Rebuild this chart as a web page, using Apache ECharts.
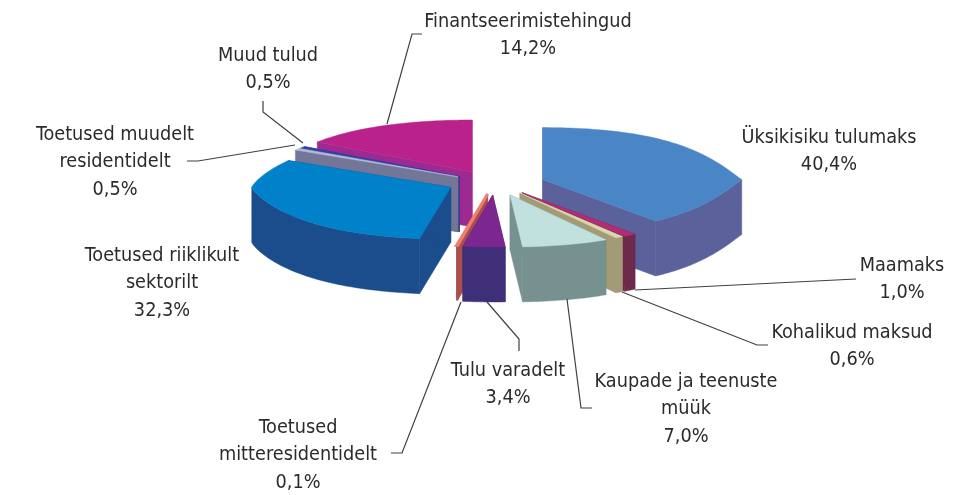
<!DOCTYPE html>
<html><head><meta charset="utf-8">
<style>html,body{margin:0;padding:0;background:#fff}#c{width:966px;height:495px}</style>
<script src="https://cdn.jsdelivr.net/npm/echarts@6/dist/echarts.min.js"></script>
</head><body><div id="c"></div>
<script>
const categories = ["Üksikisiku tulumaks","Maamaks","Kohalikud maksud","Kaupade ja teenuste\nmüük","Tulu varadelt","Toetused\nmitteresidentidelt","Toetused riiklikult\nsektorilt","Toetused muudelt\nresidentidelt","Muud tulud","Finantseerimistehingud"];
const values = [40.4,1.0,0.6,7.0,3.4,0.1,32.3,0.5,0.5,14.2];

const view = {cx:495, cy:183, rx:199, ry:52, depth:55, squash:0.23};
const explode = [50,50,50,54,52,48,48,46,45,53];
const layer = [4,5,6,7,9,8,3,2,1,0];
const topColors = ["#4A86C6","#B32C78","#DDD6AC","#C0E1DE","#7C2790","#EE7F6E","#0081C9","#AFBCDF","#3A3CA6","#B8228A"];
const sideColors = ["#5A619B","#6E2A4B","#A39B78","#76918F","#3F2F78","#A9504C","#1B4C8B","#747697","#3A3A92","#9C2A90"];
const topEdge = [0.5,0.5,0.5,0.5,0.5,3,0.5,0.5,1,0.5];
const labelAt = [[829,124],[902,252],[852,319],[686,368],[508,357],[298,414],[162,242],[115,121],[268,42],[528,8]];
const leaders = [
 null,
 [[635,290],[856,279]],
 [[622,292],[757,345],[768,345]],
 [[567,299],[581,408],[592,408]],
 [[487,302],[519,339],[519,351]],
 [[461,302],[402,453],[391,453]],
 null,
 [[295,145],[198,161],[187,161]],
 [[303,143],[263,112],[263,101]],
 [[387,124],[412,34],[422,34]]
];
const TAU = Math.PI*2;
let acc = 0;
const rows = values.map((v,i)=>{const r=[i,acc,acc+v];acc+=v;return r;});

function renderSlice(params, api){
  const i = api.value(0), a0 = api.value(1)/100*TAU, a1 = api.value(2)/100*TAU;
  const mid=(a0+a1)/2, e=explode[i];
  const ax=view.cx+Math.sin(mid)*e, ay=view.cy-Math.cos(mid)*e*view.squash;
  const P=a=>{
    const s=Math.sin(a), c=Math.cos(a), ac=Math.abs(c);
    // the rim of the original is a pointed lens, not a true ellipse
    const pow=1+(s>=0?1:0.5)*(1-ac);
    return [ax+s*view.rx, ay-Math.sign(c)*Math.pow(ac,pow)*view.ry];
  };
  const D=p=>[p[0],p[1]+view.depth];
  const steps=Math.max(2,Math.ceil((a1-a0)/0.02));
  const arc=[];for(let s=0;s<=steps;s++)arc.push(P(a0+(a1-a0)*s/steps));
  const apex=[ax,ay];
  const z=layer[i]*10;
  const side=sideColors[i], top=topColors[i];
  const kids=[];
  const poly=(pts,c,zz,lw)=>kids.push({type:'polygon',z2:z+zz,shape:{points:pts},style:{fill:c,stroke:c,lineWidth:lw||0.5}});
  poly([apex,P(a0),D(P(a0)),D(apex)],side,0);
  poly([apex,P(a1),D(P(a1)),D(apex)],side,1);
  const f0=Math.max(a0,Math.PI/2), f1=Math.min(a1,Math.PI*1.5);
  if(f1>f0){
    const fs=Math.max(2,Math.ceil((f1-f0)/0.02)),u=[];
    for(let s=0;s<=fs;s++)u.push(P(f0+(f1-f0)*s/fs));
    poly(u.concat(u.map(D).reverse()),side,2);
  }
  poly([apex].concat(arc),top,3,topEdge[i]);
  return {type:'group',children:kids};
}

const gfx=[];
categories.forEach((name,i)=>{
  gfx.push({type:'text',x:labelAt[i][0],y:labelAt[i][1],z:20,style:{text:name+"\n"+values[i].toFixed(1).replace('.',',')+"%",
    fill:'#2b2b2b',font:'19.7px "DejaVu Sans Condensed"',align:'center',verticalAlign:'top',lineHeight:27.5}});
  if(leaders[i]) gfx.push({type:'polyline',z:20,shape:{points:leaders[i]},style:{stroke:'#404040',lineWidth:1.2,fill:null}});
});

const chart=echarts.init(document.getElementById('c'),null,{renderer:'canvas'});
chart.setOption({
  animation:false,
  backgroundColor:'#fff',
  series:[{type:'custom',coordinateSystem:'none',data:rows,renderItem:renderSlice,silent:true}],
  graphic:gfx
});
</script></body></html>
